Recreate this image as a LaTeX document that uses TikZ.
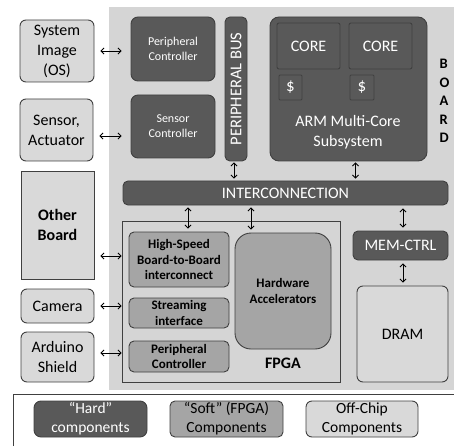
\documentclass[tikz,border=0pt]{standalone}
\usepackage{fontspec}
\setmainfont{Carlito}
\usepackage{tikz}
\usetikzlibrary{arrows.meta,positioning,calc}
\usepackage{xcolor}
\definecolor{hardgray}{HTML}{595959}
\definecolor{softgray}{HTML}{A5A5A5}
\definecolor{offgray}{HTML}{D9D9D9}
\definecolor{boardgray}{HTML}{D5D5D5}
\definecolor{edgegray}{HTML}{404040}

\begin{document}
\begin{tikzpicture}[x=1pt, y=-1pt,
  base/.style={draw=edgegray, line width=0.9pt, inner sep=0pt, align=center},
  hard/.style={base, fill=hardgray, text=white, rounded corners=7pt,
    font=\fontsize{12}{15}\selectfont},
  soft/.style={base, fill=softgray, rounded corners=5pt,
    font=\bfseries\fontsize{13}{15.5}\selectfont},
  offchip/.style={base, fill=offgray, rounded corners=6pt,
    font=\fontsize{16}{20}\selectfont},
  arr/.style={{Straight Barb[length=3pt,width=6pt]}-{Straight Barb[length=3pt,width=6pt]},
    line width=0.9pt}
]
\useasboundingbox (0,0) rectangle (454,446);
% board background
\fill[boardgray] (109,7) rectangle (454,390);

% off-chip parts on the left
\node[offchip, minimum width=74pt, minimum height=62pt] (sysimg) at (57,51) {System\\Image\\(OS)};
\node[offchip, minimum width=73pt, minimum height=62pt] (sensor) at (56.5,130) {Sensor,\\Actuator};
\node[offchip, sharp corners, minimum width=73pt, minimum height=108pt,
  font=\bfseries\fontsize{16}{20}\selectfont] (otherb) at (57.5,225) {Other\\Board};
\node[offchip, minimum width=73pt, minimum height=34pt] (camera) at (57.5,306) {Camera};
\node[offchip, minimum width=73pt, minimum height=50pt] (arduino) at (57.5,357) {Arduino\\Shield};

% hard components
\node[hard, minimum width=84pt, minimum height=64pt] (pctrl) at (173,49) {Peripheral\\Controller};
\node[hard, minimum width=84pt, minimum height=63pt] (sctrl) at (173,126.5) {Sensor\\Controller};
\node[hard, rounded corners=5pt, minimum width=22pt, minimum height=144pt] (pbus) at (236,89) {};
\node[rotate=90, text=white, font=\fontsize{16.5}{18}\selectfont] (pbuslbl) at (pbus) {PERIPHERAL BUS};
\node[hard, rounded corners=9pt, minimum width=157pt, minimum height=144pt] (arm) at (348.5,89) {};
\node[hard, draw=black!75, rounded corners=2pt, minimum width=63pt, minimum height=46pt,
  font=\fontsize{16}{19}\selectfont] (core1) at (308.5,46) {CORE};
\node[hard, draw=black!75, rounded corners=2pt, minimum width=63pt, minimum height=46pt,
  font=\fontsize{16}{19}\selectfont] (core2) at (380.5,46) {CORE};
\node[hard, draw=black!75, rounded corners=1pt, minimum width=23pt, minimum height=25pt,
  font=\fontsize{17}{19}\selectfont] (cache1) at (290.5,87.5) {\$};
\node[hard, draw=black!75, rounded corners=1pt, minimum width=24pt, minimum height=25pt,
  font=\fontsize{17}{19}\selectfont] (cache2) at (362,87.5) {\$};
\node[text=white, align=center, font=\fontsize{16}{20}\selectfont] (armlbl) at (348,132) {ARM Multi-Core\\Subsystem};
\node[anchor=west, align=left, font=\bfseries\fontsize{14.5}{18.4}\selectfont] (boardlbl) at (436,101) {B\\O\\A\\R\\D};

\node[hard, rounded corners=5pt, minimum width=325pt, minimum height=24pt,
  font=\fontsize{16}{19}\selectfont] (inter) at (285.5,193) {INTERCONNECTION};

% FPGA part
\node[draw=edgegray, line width=0.9pt, minimum width=218pt, minimum height=161pt, inner sep=0pt] (fpga) at (231,301.5) {};
\node[soft, minimum width=100pt, minimum height=55pt] (hsb) at (179,259.5) {High-Speed\\Board-to-Board\\interconnect};
\node[soft, minimum width=100pt, minimum height=30pt] (stream) at (179,313) {Streaming\\interface};
\node[soft, minimum width=100pt, minimum height=31pt] (fpctrl) at (179,356.5) {Peripheral\\Controller};
\node[soft, rounded corners=16pt, minimum width=96pt, minimum height=116pt] (hwacc) at (283,291) {Hardware\\Accelerators};
\node[font=\bfseries\fontsize{16}{19}\selectfont] (fpgalbl) at (283,363) {FPGA};

\node[hard, rounded corners=5pt, minimum width=95pt, minimum height=29pt,
  font=\fontsize{16}{19}\selectfont] (memctrl) at (400.5,245.5) {MEM-CTRL};
\node[offchip, minimum width=91pt, minimum height=96pt] (dram) at (402.5,334) {DRAM};

% connectors
\draw[arr, shorten <=6pt, shorten >=9pt] (sysimg.east) -- (sysimg.east -| pctrl.west);
\draw[arr, shorten <=6pt, shorten >=9pt] ([yshift=-6pt]sensor.east) -- ([yshift=-6pt]sensor.east -| sctrl.west);
\draw[arr, shorten <=6pt, shorten >=7pt] ([yshift=-31pt]otherb.east) -- ([yshift=-31pt]otherb.east -| hsb.west);
\draw[arr, shorten <=6pt, shorten >=7pt] (camera.east) -- (camera.east -| stream.west);
\draw[arr, shorten <=6pt, shorten >=7pt] ([yshift=4pt]arduino.east) -- ([yshift=4pt]arduino.east -| fpctrl.west);
\draw[arr, shorten <=1pt, shorten >=2pt] ([xshift=-2pt]pbus.south) -- ([xshift=-2pt]pbus.south |- inter.north);
\draw[arr, shorten <=1pt, shorten >=2pt] ([xshift=7pt]arm.south) -- ([xshift=7pt]arm.south |- inter.north);
\draw[arr, shorten <=2pt, shorten >=3pt] ([xshift=9pt]hsb.north |- inter.south) -- ([xshift=9pt]hsb.north);
\draw[arr, shorten <=2pt, shorten >=3pt] ([xshift=-32pt]hwacc.north |- inter.south) -- ([xshift=-32pt]hwacc.north);
\draw[arr, shorten <=3pt, shorten >=3pt] ([xshift=2.5pt]memctrl.north |- inter.south) -- ([xshift=2.5pt]memctrl.north);
\draw[arr, shorten <=3pt, shorten >=3pt] ([xshift=2.5pt]memctrl.south) -- ([xshift=2.5pt]memctrl.south |- dram.north);

% legend
\draw[edgegray, line width=0.8pt] (13,446) -- (13,394) -- (454,394);
\node[hard, font=\fontsize{15.5}{19}\selectfont, minimum width=113pt, minimum height=36pt] (leghard) at (90.5,419) {``Hard''\\components};
\node[soft, font=\fontsize{15.5}{19}\selectfont, minimum width=113pt, minimum height=36pt] (legsoft) at (226.5,419) {``Soft'' (FPGA)\\Components};
\node[offchip, font=\fontsize{15.5}{19}\selectfont, minimum width=112pt, minimum height=36pt] (legoff) at (362,419) {Off-Chip\\Components};
\end{tikzpicture}
\end{document}
